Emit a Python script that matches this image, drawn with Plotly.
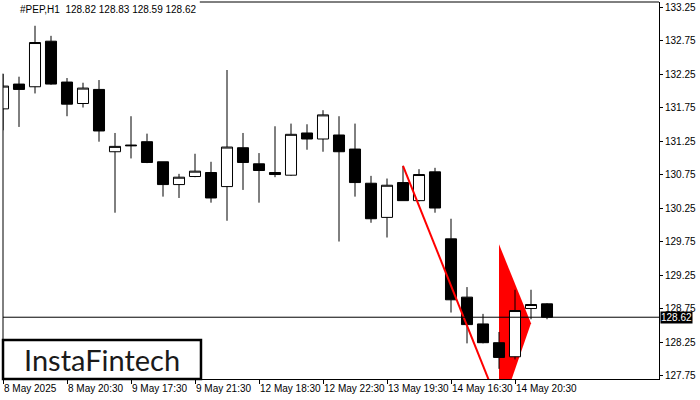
import plotly.graph_objects as go

# ---- data (hourly bars, index 0..34) ----
opens  = [131.73, 132.10, 132.06, 132.74, 132.13, 131.81, 132.02, 131.09, 131.19, 131.24,
          130.94, 130.60, 130.72, 130.78, 130.57, 131.15, 130.91, 130.78, 130.74, 131.37,
          131.28, 131.34, 131.13, 130.62, 130.11, 130.63, 130.36, 130.79, 129.79, 128.92,
          128.52, 128.24, 128.03, 128.75, 128.82]
highs  = [132.25, 132.21, 132.97, 132.82, 132.19, 132.12, 132.16, 131.37, 131.62, 131.36,
          130.94, 130.76, 131.06, 130.94, 132.31, 131.37, 131.07, 131.47, 131.51, 131.50,
          131.71, 131.62, 131.51, 130.73, 130.69, 130.88, 130.83, 130.85, 130.09, 129.07,
          128.67, 128.40, 129.03, 129.03, 128.83]
lows   = [131.41, 131.46, 131.96, 132.09, 131.62, 131.75, 131.24, 130.18, 130.99, 130.92,
          130.42, 130.40, 130.71, 130.33, 130.06, 130.52, 130.33, 130.71, 130.73, 131.12,
          131.09, 129.75, 130.42, 130.03, 129.81, 130.36, 130.35, 130.18, 128.69, 128.23,
          128.23, 127.85, 127.99, 128.59, 128.59]
closes = [132.07, 132.02, 132.72, 132.10, 131.80, 132.04, 131.40, 131.17, 131.18, 130.93,
          130.60, 130.71, 130.80, 130.40, 131.16, 130.93, 130.81, 130.75, 131.35, 131.28,
          131.64, 131.09, 130.63, 130.09, 130.59, 130.36, 130.75, 130.25, 128.88, 128.51,
          128.24, 128.02, 128.72, 128.81, 128.62]
bar_index = list(range(len(opens)))

tick_index = [0, 4, 8, 12, 16, 20, 24, 28, 32]
tick_labels = ["8 May 2025", "8 May 20:30", "9 May 17:30", "9 May 21:30", "12 May 18:30",
               "12 May 22:30", "13 May 19:30", "14 May 16:30", "14 May 20:30"]

y_ticks = [127.75, 128.25, 128.75, 129.25, 129.75, 130.25, 130.75, 131.25, 131.75, 132.25, 132.75, 133.25]

trend_x = [25, 30.6]
trend_y = [130.88, 127.54]

pennant_x = [31, 33, 31]
pennant_y = [129.71, 128.53, 127.15]

last_price = 128.62
header = "#PEP,H1  128.82 128.83 128.59 128.62"

FONT = "Liberation Sans, Arial, sans-serif"

fig = go.Figure()

fig.add_trace(go.Candlestick(
    x=bar_index, open=opens, high=highs, low=lows, close=closes,
    increasing=dict(fillcolor="white", line=dict(color="black", width=1)),
    decreasing=dict(fillcolor="black", line=dict(color="black", width=1)),
    whiskerwidth=0, hoverinfo="skip", showlegend=False,
))

# trend line (red)
fig.add_trace(go.Scatter(x=trend_x, y=trend_y, mode="lines",
                         line=dict(color="#ff0000", width=2), hoverinfo="skip", showlegend=False))

# last price line
fig.add_trace(go.Scatter(x=[0, 41], y=[last_price, last_price], mode="lines",
                         line=dict(color="black", width=1), hoverinfo="skip", showlegend=False))

# pennant (below candles)
path = "M {},{} L {},{} L {},{} Z".format(pennant_x[0], pennant_y[0], pennant_x[1], pennant_y[1],
                                           pennant_x[2], pennant_y[2])
shapes = [
    dict(type="path", path=path, xref="x", yref="y", fillcolor="#ff0000",
         line=dict(width=0), layer="below"),
    # top border (header area left open)
    dict(type="line", xref="paper", yref="paper", x0=0.30, x1=1, y0=1, y1=1,
         line=dict(color="black", width=1)),
    # left border below header area
    dict(type="line", xref="paper", yref="paper", x0=0, x1=0, y0=0, y1=0.81,
         line=dict(color="black", width=1)),
    # logo box
    dict(type="rect", xref="paper", yref="paper", x0=0.0, x1=0.3018, y0=0.0, y1=0.1034,
         fillcolor="white", line=dict(color="black", width=2.5), layer="above"),
]

annotations = [
    dict(text=header, xref="paper", yref="paper", x=0.0229, y=0.979, xanchor="left",
         yanchor="middle", showarrow=False, font=dict(family=FONT, size=10, color="black")),
    dict(text="InstaFintech", xref="paper", yref="paper", x=0.1505, y=0.052,
         xanchor="center", yanchor="middle", showarrow=False,
         font=dict(family="Lato, sans-serif", size=29, color="#1a1a1a")),
    dict(text="128.62", xref="paper", yref="y", x=1.0, y=last_price, xanchor="left",
         yanchor="middle", xshift=1, showarrow=False, bgcolor="black", borderpad=0,
         font=dict(family=FONT, size=10, color="white")),
]

fig.update_layout(
    width=700, height=400,
    margin=dict(l=3, r=41, t=2, b=21, autoexpand=False),
    paper_bgcolor="white", plot_bgcolor="white",
    showlegend=False, hovermode=False,
    boxgap=0.31, boxgroupgap=0,
    shapes=shapes, annotations=annotations,
    font=dict(family=FONT, size=10, color="black"),
    xaxis=dict(range=[0, 41], rangeslider=dict(visible=False), showgrid=False, zeroline=False,
               showline=True, linecolor="black", linewidth=1, ticks="outside", ticklen=4,
               tickcolor="black", tickvals=tick_index, ticktext=tick_labels, tickangle=0,
               automargin=False,
               ticklabelposition="outside right", tickfont=dict(family=FONT, size=10, color="black")),
    yaxis=dict(range=[127.698, 133.325], side="right", showgrid=False, zeroline=False,
               showline=True, linecolor="black", linewidth=1, ticks="outside", ticklen=3,
               tickcolor="black", tickvals=y_ticks, ticktext=["{:.2f}".format(v) for v in y_ticks],
               automargin=False,
               tickfont=dict(family=FONT, size=10, color="black")),
)

fig.write_html("out.html", config={"displayModeBar": False},
               post_script="document.body.style.margin='0';document.body.style.overflow='hidden';")
